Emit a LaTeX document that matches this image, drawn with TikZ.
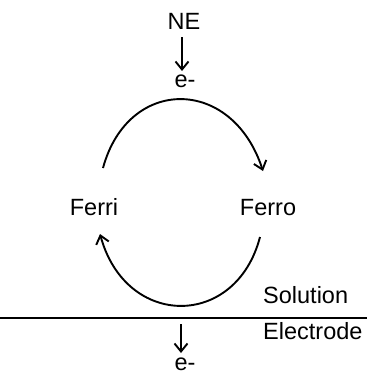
\documentclass[tikz,border=0pt]{standalone}
\usepackage{fontspec}
\setmainfont{Liberation Sans}
\usetikzlibrary{arrows.meta}
\begin{document}
\begin{tikzpicture}[x=1pt,y=-1pt,
  lbl/.style={inner sep=0pt,anchor=base,font=\fontsize{23.5}{28}\selectfont},
  conn/.style={line width=1.9pt,-{Straight Barb[length=8pt,width=13pt,line width=1.9pt]}}]
\useasboundingbox (0,0) rectangle (367,375);
\node[lbl] (ne) at (184,29) {NE};
\node[lbl] (e1) at (185,87) {e-};
\node[lbl] (ferri) at (94,215) {Ferri};
\node[lbl] (ferro) at (268,215) {Ferro};
\node[lbl,anchor=base west] (sol) at (263,303) {Solution};
\node[lbl,anchor=base west] (elec) at (263,339) {Electrode};
\node[lbl] (e2) at (185,370.5) {e-};
\coordinate (n1) at (182,37);
\coordinate (n2) at (182,71);
\coordinate (a1) at (103,168);
\coordinate (a2) at (263,171);
\coordinate (b1) at (260,237);
\coordinate (b2) at (100,234);
\coordinate (c1) at (181,324);
\coordinate (c2) at (181,353);
\draw[conn] (n1) -- (n2);
\draw[conn] (a1) .. controls (128,76) and (232,76) .. (a2);
\draw[conn] (b1) .. controls (236,329) and (126,329) .. (b2);
\draw[line width=2pt] (0,318) coordinate (l1) -- (367,318) coordinate (l2);
\draw[conn] (c1) -- (c2);
\end{tikzpicture}
\end{document}
